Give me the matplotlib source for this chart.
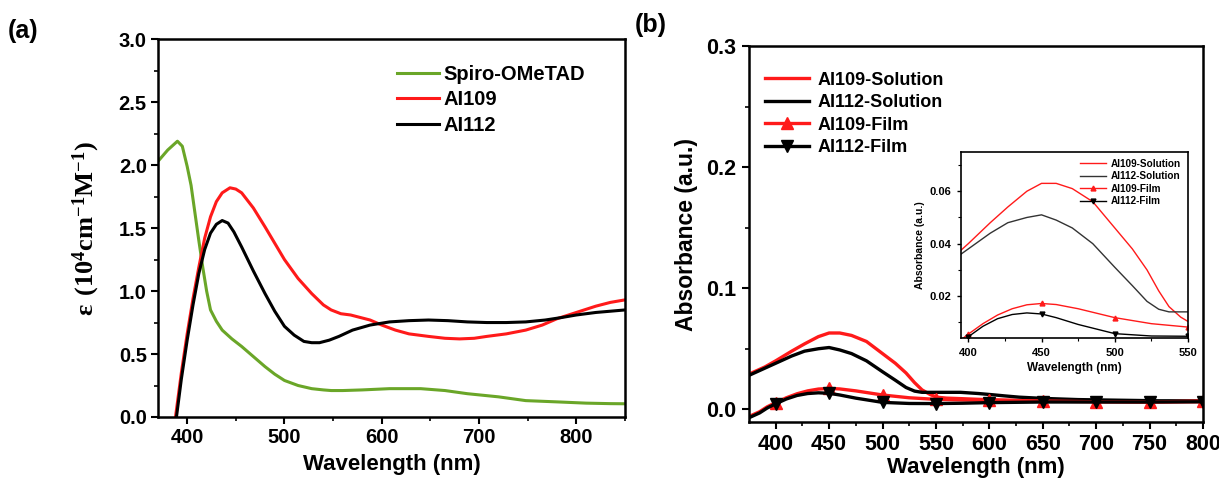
import matplotlib
matplotlib.use("Agg")
import matplotlib.pyplot as plt
import numpy as np

plt.rcParams['font.family'] = ['Liberation Sans', 'DejaVu Sans']
plt.rcParams['font.weight'] = 'bold'
plt.rcParams['axes.labelweight'] = 'bold'

# ---------------- Panel (a) data ----------------
spiro_x = [370, 380, 390, 395, 400, 404, 408, 412, 416, 420, 424, 430, 436, 446, 456, 468, 480, 490, 500, 514, 528, 540, 548, 560, 580, 608, 640, 665, 688, 720, 748, 780, 810, 835, 850]
spiro_y = [2.03, 2.12, 2.19, 2.15, 1.99, 1.84, 1.62, 1.40, 1.19, 1.00, 0.85, 0.76, 0.69, 0.62, 0.56, 0.48, 0.40, 0.34, 0.29, 0.25, 0.225, 0.215, 0.21, 0.21, 0.215, 0.225, 0.225, 0.21, 0.185, 0.16, 0.13, 0.12, 0.11, 0.106, 0.105]

ai109_x = [388, 394, 400, 406, 412, 418, 424, 430, 436, 444, 450, 456, 468, 480, 490, 500, 514, 528, 540, 548, 558, 568, 578, 588, 600, 614, 628, 648, 665, 680, 695, 708, 728, 748, 765, 780, 800, 820, 835, 850]
ai109_y = [0.0, 0.35, 0.66, 0.94, 1.19, 1.42, 1.59, 1.71, 1.78, 1.82, 1.81, 1.78, 1.66, 1.51, 1.38, 1.25, 1.10, 0.98, 0.89, 0.85, 0.82, 0.81, 0.79, 0.77, 0.73, 0.69, 0.66, 0.64, 0.625, 0.62, 0.625, 0.64, 0.66, 0.69, 0.73, 0.78, 0.83, 0.88, 0.91, 0.93]

ai112_x = [389, 394, 400, 406, 412, 418, 424, 430, 436, 442, 448, 456, 468, 480, 490, 500, 510, 520, 528, 536, 546, 556, 570, 588, 608, 628, 648, 668, 688, 708, 728, 748, 768, 785, 800, 820, 835, 850]
ai112_y = [0.0, 0.30, 0.61, 0.89, 1.14, 1.33, 1.46, 1.53, 1.56, 1.54, 1.47, 1.35, 1.16, 0.98, 0.84, 0.72, 0.65, 0.60, 0.59, 0.59, 0.61, 0.64, 0.69, 0.73, 0.755, 0.765, 0.77, 0.765, 0.755, 0.75, 0.75, 0.755, 0.77, 0.79, 0.81, 0.83, 0.84, 0.85]

# ---------------- Panel (b) data ----------------
sol109_x = [375, 390, 400, 415, 427, 440, 450, 460, 471, 485, 500, 512, 522, 530, 537, 545, 551, 560, 573, 590, 610, 650, 700, 750, 800]
sol109_y = [0.029, 0.035, 0.040, 0.048, 0.054, 0.060, 0.063, 0.063, 0.061, 0.056, 0.046, 0.038, 0.030, 0.022, 0.016, 0.012, 0.010, 0.0092, 0.0088, 0.0082, 0.0077, 0.007, 0.0065, 0.006, 0.0062]

sol112_x = [375, 390, 400, 415, 427, 440, 450, 460, 471, 485, 500, 512, 522, 530, 537, 545, 560, 573, 590, 603, 615, 628, 650, 683, 720, 760, 800]
sol112_y = [0.028, 0.034, 0.038, 0.044, 0.048, 0.050, 0.051, 0.049, 0.046, 0.040, 0.031, 0.024, 0.018, 0.015, 0.014, 0.014, 0.014, 0.014, 0.013, 0.012, 0.011, 0.010, 0.009, 0.008, 0.0075, 0.007, 0.007]

film109_x = [375, 385, 392, 400, 410, 420, 430, 440, 450, 460, 475, 500, 525, 550, 575, 600, 650, 700, 750, 800]
film109_y = [-0.006, -0.002, 0.002, 0.0055, 0.0095, 0.0128, 0.0152, 0.0167, 0.0172, 0.0168, 0.0152, 0.0118, 0.0095, 0.0082, 0.0077, 0.0074, 0.0068, 0.0062, 0.006, 0.0068]

film112_x = [375, 385, 392, 400, 410, 420, 430, 440, 450, 460, 475, 500, 525, 550, 575, 600, 650, 700, 750, 800]
film112_y = [-0.007, -0.003, 0.001, 0.0045, 0.0085, 0.0114, 0.0130, 0.0136, 0.0132, 0.0118, 0.0092, 0.0057, 0.0048, 0.0047, 0.005, 0.0055, 0.006, 0.006, 0.006, 0.0062]

marker_x = [400, 450, 500, 550, 600, 650, 700, 750, 800]

GREEN = '#6aa628'
RED = '#ff1a1a'

fig = plt.figure(figsize=(12.19, 4.90), dpi=100)

# ---------------- Panel (a) ----------------
axa = fig.add_axes([0.1296, 0.149, 0.3831, 0.771])
axa.plot(spiro_x, spiro_y, color=GREEN, lw=2.2, label='Spiro-OMeTAD')
axa.plot(ai109_x, ai109_y, color=RED, lw=2.2, label='AI109')
axa.plot(ai112_x, ai112_y, color='black', lw=2.2, label='AI112')
axa.set_xlim(370, 850)
axa.set_ylim(0, 3.0)
axa.set_xticks([400, 500, 600, 700, 800])
axa.set_xticks([450, 550, 650, 750, 850], minor=True)
axa.set_yticks(np.arange(0, 3.01, 0.5))
axa.set_yticks(np.arange(0.25, 3.0, 0.5), minor=True)
axa.yaxis.set_major_formatter(matplotlib.ticker.FormatStrFormatter('%.1f'))
axa.tick_params(which='major', direction='out', length=5, width=1.5, labelsize=14.5, pad=3)
axa.tick_params(which='minor', direction='out', length=3, width=1.2)
for s in axa.spines.values():
    s.set_linewidth(1.8)
axa.set_xlabel('Wavelength (nm)', fontsize=16, labelpad=5)
axa.set_ylabel(r'$\mathregular{\varepsilon\ (10^4 cm^{-1}M^{-1})}$', fontsize=19,
               family=['Liberation Serif'], fontweight='bold', labelpad=12)
axa.legend(loc='upper left', bbox_to_anchor=(0.472, 0.98), frameon=False,
           handlelength=2.1, handletextpad=0.25, labelspacing=0.32,
           prop={'weight': 'bold', 'size': 14.5})
fig.text(0.006, 0.937, '(a)', fontsize=18, fontweight='bold', ha='left', va='center')

# ---------------- Panel (b) ----------------
axb = fig.add_axes([0.6144, 0.1388, 0.3725, 0.7672])
axb.plot(sol109_x, sol109_y, color=RED, lw=2.4, label='AI109-Solution')
axb.plot(sol112_x, sol112_y, color='black', lw=2.4, label='AI112-Solution')
mk109 = [film109_x.index(v) for v in marker_x]
mk112 = [film112_x.index(v) for v in marker_x]
axb.plot(film109_x, film109_y, color=RED, lw=2.4, marker='^', ms=8, markevery=mk109, label='AI109-Film')
axb.plot(film112_x, film112_y, color='black', lw=2.4, marker='v', ms=8, markevery=mk112, label='AI112-Film')
axb.set_xlim(375, 800)
axb.set_ylim(-0.0105, 0.3)
axb.set_xticks(marker_x)
axb.set_xticks(np.arange(425, 800, 50), minor=True)
axb.set_yticks([0.0, 0.1, 0.2, 0.3])
axb.set_yticks([0.05, 0.15, 0.25], minor=True)
axb.tick_params(which='major', direction='out', length=5, width=1.5, labelsize=15.5, pad=4)
axb.tick_params(which='minor', direction='out', length=3, width=1.2)
for s in axb.spines.values():
    s.set_linewidth(1.8)
axb.set_xlabel('Wavelength (nm)', fontsize=16, labelpad=1)
axb.set_ylabel('Absorbance (a.u.)', fontsize=16.5, labelpad=6)
axb.legend(loc='upper left', bbox_to_anchor=(0.0, 0.975), frameon=False,
           handlelength=2.4, handletextpad=0.5, labelspacing=0.3,
           prop={'weight': 'bold', 'size': 13})
fig.text(0.521, 0.948, '(b)', fontsize=18, fontweight='bold', ha='left', va='center')

# ---------------- Inset ----------------
axi = fig.add_axes([0.7883, 0.310, 0.1863, 0.380])
axi.plot(sol109_x, sol109_y, color=RED, lw=1.0, label='AI109-Solution')
axi.plot(sol112_x, sol112_y, color='#333333', lw=1.0, label='AI112-Solution')
axi.plot(film109_x, film109_y, color=RED, lw=1.0, marker='^', ms=3.5, markevery=mk109, label='AI109-Film')
axi.plot(film112_x, film112_y, color='black', lw=1.0, marker='v', ms=3.5, markevery=mk112, label='AI112-Film')
axi.set_xlim(395, 550)
axi.set_ylim(0.004, 0.075)
axi.set_xticks([400, 450, 500, 550])
axi.set_xticks([425, 475, 525], minor=True)
axi.set_yticks([0.02, 0.04, 0.06])
axi.set_yticks([0.01, 0.03, 0.05, 0.07], minor=True)
axi.tick_params(which='major', direction='out', length=3, width=1.0, labelsize=8, pad=4)
axi.tick_params(which='minor', direction='out', length=2, width=0.8)
for s in axi.spines.values():
    s.set_linewidth(1.2)
axi.set_xlabel('Wavelength (nm)', fontsize=8.5, labelpad=3)
axi.set_ylabel('Absorbance (a.u.)', fontsize=7.5, labelpad=3)
axi.legend(loc='upper right', frameon=False, handlelength=2.6, handletextpad=0.5,
           labelspacing=0.25, borderaxespad=0.3, prop={'weight': 'bold', 'size': 7.2})

fig.savefig('out.png', dpi=100)
